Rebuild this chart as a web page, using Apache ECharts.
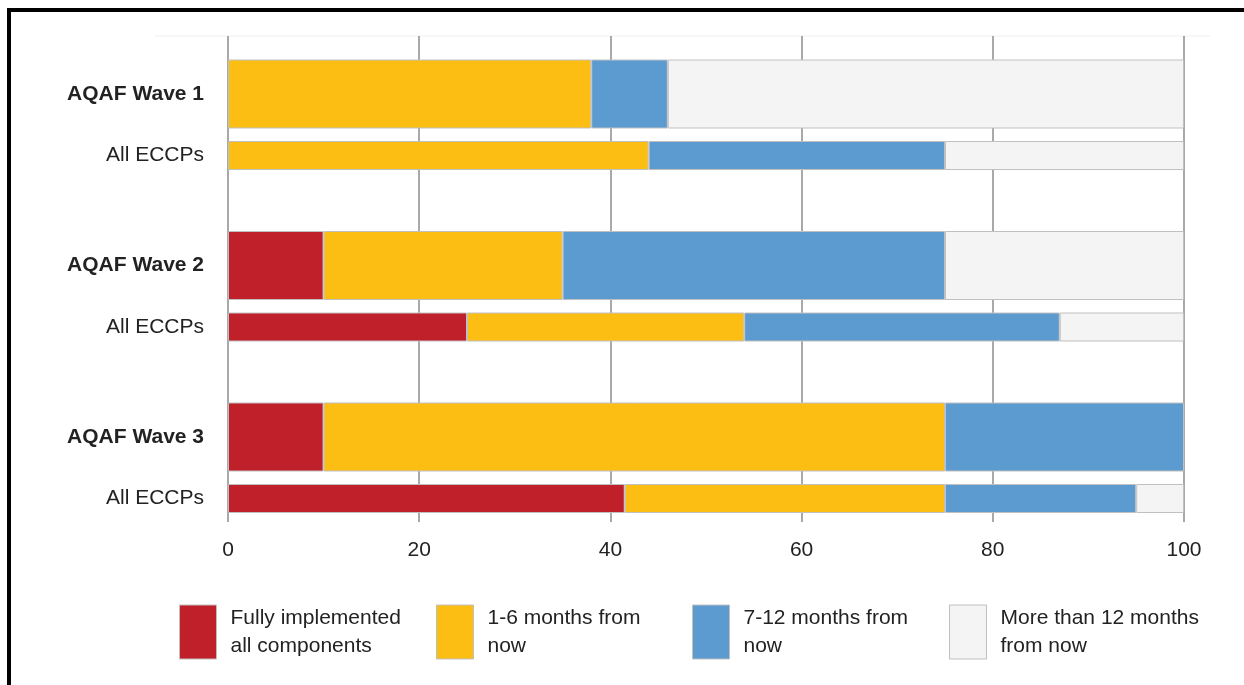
<!DOCTYPE html>
<html>
<head>
<meta charset="utf-8">
<script src="https://cdn.jsdelivr.net/npm/echarts@6/dist/echarts.min.js"></script>
<style>
  html, body { margin: 0; padding: 0; background: #fff; }
  #chart { width: 1244px; height: 685px; }
</style>
</head>
<body>
<div id="chart"></div>
<script>
// ---- Data ----
const waveLabels = ['AQAF Wave 1', 'AQAF Wave 2', 'AQAF Wave 3'];
const eccpLabels = ['All ECCPs', 'All ECCPs', 'All ECCPs'];
const seriesNames = ['Fully implemented all components', '1-6 months from now', '7-12 months from now', 'More than 12 months from now'];
const legendLabels = ['Fully implemented\nall components', '1-6 months from\nnow', '7-12 months from\nnow', 'More than 12 months\nfrom now'];
// AQAF wave values (percent), per series, per wave
const waveFully = [0, 10, 10];
const waveOneSix = [38, 25, 65];
const waveSevenTwelve = [8, 40, 25];
const waveMore = [54, 25, 0];
// All ECCPs values (percent), per series, per wave
const eccpFully = [0, 25, 41.5];
const eccpOneSix = [44, 29, 33.5];
const eccpSevenTwelve = [31, 33, 20];
const eccpMore = [25, 13, 5];
const xTicks = [0, 20, 40, 60, 80, 100];

const colors = ['#C0202A', '#FDBE14', '#5B9BD0', '#F3F4F3'];
const font = "'Liberation Sans', Arial, sans-serif";

const waveData = [waveFully, waveOneSix, waveSevenTwelve, waveMore];
const eccpData = [eccpFully, eccpOneSix, eccpSevenTwelve, eccpMore];

const clean = arr => arr.map(v => (v === 0 ? null : v));

const series = [];
seriesNames.forEach((name, i) => {
  series.push({
    name: name, type: 'bar', stack: 'wave', xAxisIndex: 0, yAxisIndex: 0,
    barWidth: 69, data: clean(waveData[i]),
    itemStyle: { color: colors[i], borderColor: '#c0c0c0', borderWidth: 1 },
    emphasis: { disabled: true }
  });
});
seriesNames.forEach((name, i) => {
  series.push({
    name: name, type: 'bar', stack: 'eccp', xAxisIndex: 1, yAxisIndex: 1,
    barWidth: 29, data: clean(eccpData[i]),
    itemStyle: { color: colors[i], borderColor: '#c0c0c0', borderWidth: 1 },
    emphasis: { disabled: true }
  });
});

const legendLefts = [179, 436, 692, 949];
const legends = seriesNames.map((name, i) => ({
  data: [name],
  left: legendLefts[i],
  top: 604,
  padding: 0,
  orient: 'horizontal',
  itemWidth: 37,
  itemHeight: 54,
  selectedMode: false,
  icon: 'rect',
  formatter: () => legendLabels[i],
  textStyle: { fontFamily: font, fontSize: 21, color: '#222', lineHeight: 28, padding: [0, 0, 0, 9] },
  itemStyle: { borderColor: '#c0c0c0', borderWidth: 1 }
}));

const chart = echarts.init(document.getElementById('chart'));
chart.setOption({
  animation: false,
  backgroundColor: '#fff',
  grid: [
    { left: 228, right: 60, top: 8.25, height: 514.5 },
    { left: 228, right: 60, top: 69.75, height: 514.5 },
    { left: 228, right: 60, top: 36, height: 486 }
  ],
  xAxis: [
    { type: 'value', gridIndex: 0, min: 0, max: 100, show: false },
    { type: 'value', gridIndex: 1, min: 0, max: 100, show: false },
    {
      type: 'value', gridIndex: 2, min: xTicks[0], max: xTicks[xTicks.length - 1], interval: 20,
      axisLine: { show: false }, axisTick: { show: false },
      splitLine: { show: true, lineStyle: { color: '#a9a9a9', width: 2 } },
      axisLabel: { fontFamily: font, fontSize: 21, color: '#222', margin: 18 }
    }
  ],
  yAxis: [
    {
      type: 'category', gridIndex: 0, inverse: true, data: waveLabels,
      axisLine: { show: false }, axisTick: { show: false }, splitLine: { show: false },
      axisLabel: { fontFamily: font, fontSize: 21, fontWeight: 'bold', color: '#222', margin: 24 }
    },
    {
      type: 'category', gridIndex: 1, inverse: true, data: eccpLabels,
      axisLine: { show: false }, axisTick: { show: false }, splitLine: { show: false },
      axisLabel: { fontFamily: font, fontSize: 21, color: '#222', margin: 24 }
    },
    { type: 'value', gridIndex: 2, show: false, min: 0, max: 1 }
  ],
  legend: legends,
  series: series,
  graphic: [
    { type: 'line', shape: { x1: 155, y1: 36, x2: 1210, y2: 36 }, style: { stroke: '#eeeeee', lineWidth: 1 }, z: -1 },
    { type: 'line', shape: { x1: 7, y1: 10, x2: 1244, y2: 10 }, style: { stroke: '#000', lineWidth: 4 } },
    { type: 'line', shape: { x1: 9, y1: 8, x2: 9, y2: 685 }, style: { stroke: '#000', lineWidth: 4 } }
  ]
});
</script>
</body>
</html>
